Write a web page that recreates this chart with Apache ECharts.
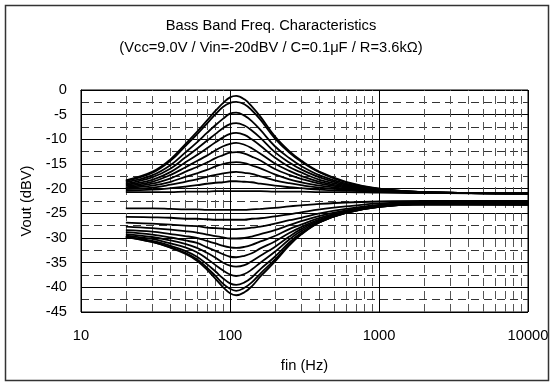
<!DOCTYPE html>
<html><head><meta charset="utf-8">
<script src="https://cdn.jsdelivr.net/npm/echarts@6/dist/echarts.min.js"></script>
<style>html,body{margin:0;padding:0;background:#fff}#c{width:554px;height:385px}</style>
</head><body><div id="c"></div>
<script>
const titleText = 'Bass Band Freq. Characteristics';
const subtitleText = '(Vcc=9.0V / Vin=-20dBV / C=0.1\u03bcF / R=3.6k\u03a9)';
const xName = 'fin (Hz)';
const yName = 'Vout (dBV)';
const minorFreqs = [20,30,40,50,60,70,80,90,200,300,400,500,600,700,800,900,2000,3000,4000,5000,6000,7000,8000,9000];
const freqs = [20,30,40,50,60,70,80,90,100,110,125,140,160,200,250,300,400,600,1000,2000,10000];
const up10 = [-18.3,-16.6,-14.0,-11.0,-8.5,-6.2,-4.2,-2.6,-1.5,-1.2,-1.9,-3.3,-5.4,-9.4,-12.4,-14.3,-16.6,-18.6,-20.0,-20.7,-21.0];
const up9  = [-18.4,-16.8,-14.3,-11.4,-9.0,-6.8,-4.9,-3.4,-2.6,-2.4,-2.9,-4.1,-6.0,-9.8,-12.7,-14.5,-16.7,-18.7,-20.0,-20.7,-21.0];
const up8  = [-18.7,-17.3,-15.2,-12.7,-10.6,-8.7,-7.1,-5.8,-4.8,-4.6,-5.2,-6.3,-8.1,-11.4,-13.8,-15.4,-17.3,-19.0,-20.1,-20.7,-21.0];
const up7  = [-19.0,-17.7,-15.9,-13.7,-11.9,-10.3,-8.9,-7.7,-6.9,-6.7,-7.2,-8.2,-9.7,-12.6,-14.7,-16.1,-17.7,-19.2,-20.2,-20.7,-21.0];
const up6  = [-19.2,-18.2,-16.6,-14.7,-13.2,-11.8,-10.6,-9.6,-8.9,-8.7,-9.1,-10.0,-11.3,-13.7,-15.6,-16.7,-18.2,-19.4,-20.3,-20.7,-21.0];
const up5  = [-19.4,-18.6,-17.2,-15.7,-14.4,-13.3,-12.2,-11.4,-10.9,-10.7,-11.1,-11.8,-12.9,-14.9,-16.4,-17.4,-18.6,-19.6,-20.3,-20.8,-21.0];
const up4  = [-19.7,-19.0,-17.9,-16.6,-15.6,-14.7,-13.8,-13.2,-12.7,-12.6,-12.9,-13.5,-14.3,-16.0,-17.2,-18.0,-19.0,-19.8,-20.4,-20.8,-20.9];
const up3  = [-19.9,-19.4,-18.6,-17.6,-16.9,-16.2,-15.5,-15.0,-14.7,-14.6,-14.8,-15.3,-15.9,-17.1,-18.1,-18.7,-19.4,-20.0,-20.5,-20.8,-20.9];
const up2  = [-20.1,-19.8,-19.2,-18.6,-18.1,-17.6,-17.2,-16.9,-16.7,-16.6,-16.8,-17.0,-17.5,-18.3,-18.9,-19.3,-19.8,-20.2,-20.6,-20.8,-20.9];
const up1  = [-20.4,-20.2,-19.9,-19.6,-19.3,-19.0,-18.8,-18.7,-18.5,-18.5,-18.6,-18.7,-19.0,-19.4,-19.7,-19.9,-20.2,-20.4,-20.6,-20.8,-20.9];
const flat = [-20.7,-20.7,-20.7,-20.6,-20.6,-20.6,-20.5,-20.5,-20.5,-20.5,-20.5,-20.5,-20.5,-20.6,-20.6,-20.6,-20.7,-20.7,-20.8,-20.9,-20.9];
const dn0  = [-24.0,-24.0,-24.1,-24.2,-24.2,-24.3,-24.3,-24.3,-24.3,-24.3,-24.3,-24.2,-24.1,-23.9,-23.6,-23.4,-23.1,-22.8,-22.6,-22.5,-22.5];
const dn1  = [-25.7,-25.8,-25.9,-26.1,-26.1,-26.2,-26.3,-26.3,-26.3,-26.3,-26.3,-26.1,-26.0,-25.6,-25.2,-24.8,-24.2,-23.6,-23.0,-22.7,-22.6];
const dn2  = [-26.9,-27.1,-27.3,-27.5,-27.6,-27.9,-28.0,-28.1,-28.2,-28.2,-28.1,-27.9,-27.7,-27.1,-26.4,-25.9,-25.0,-24.1,-23.3,-22.8,-22.7];
const dn3  = [-27.7,-28.0,-28.3,-28.6,-28.9,-29.3,-29.6,-29.9,-30.1,-30.1,-30.0,-29.7,-29.2,-28.4,-27.4,-26.6,-25.5,-24.4,-23.4,-22.9,-22.8];
const dn4  = [-28.4,-28.7,-29.2,-29.6,-30.0,-30.6,-31.1,-31.6,-31.9,-32.0,-31.8,-31.4,-30.7,-29.6,-28.2,-27.3,-25.9,-24.6,-23.5,-23.0,-22.9];
const dn5  = [-28.8,-29.3,-29.9,-30.5,-31.0,-31.9,-32.6,-33.3,-33.8,-33.9,-33.6,-33.1,-32.1,-30.7,-29.0,-27.8,-26.2,-24.7,-23.6,-23.0,-23.0];
const dn6  = [-29.2,-29.8,-30.5,-31.2,-32.0,-33.0,-34.0,-35.0,-35.6,-35.8,-35.5,-34.7,-33.6,-31.8,-29.7,-28.2,-26.4,-24.8,-23.6,-23.1,-23.0];
const dn7  = [-29.5,-30.2,-31.1,-31.9,-32.9,-34.2,-35.5,-36.6,-37.4,-37.7,-37.3,-36.4,-35.0,-32.8,-30.3,-28.6,-26.6,-24.9,-23.7,-23.1,-23.1];
const dn8  = [-29.7,-30.6,-31.6,-32.6,-33.8,-35.3,-36.8,-38.2,-39.2,-39.5,-39.0,-38.0,-36.3,-33.8,-30.9,-29.0,-26.8,-24.9,-23.7,-23.2,-23.2];
const dn9  = [-29.7,-30.8,-31.9,-33.0,-34.3,-36.0,-37.7,-39.3,-40.3,-40.7,-40.1,-39.0,-37.2,-34.4,-31.3,-29.2,-26.8,-24.9,-23.7,-23.2,-23.3];
const dn10 = [-29.8,-30.8,-32.0,-33.2,-34.6,-36.4,-38.3,-40.0,-41.2,-41.6,-41.0,-39.8,-37.8,-34.8,-31.5,-29.3,-26.8,-24.8,-23.6,-23.2,-23.3];

const curves = [up10,up9,up8,up7,up6,up5,up4,up3,up2,up1,flat,dn0,dn1,dn2,dn3,dn4,dn5,dn6,dn7,dn8,dn9,dn10];
const FONT = 'Liberation Sans, Arial, sans-serif';

const chart = echarts.init(document.getElementById('c'), null, {renderer:'canvas'});
const series = curves.map(c => ({
  type:'line', data: freqs.map((f,i)=>[f,c[i]]), symbol:'none', smooth:0.4,
  lineStyle:{color:'#000', width:1.8}, silent:true, z:5
}));
series.push({
  type:'line', data:[], silent:true, z:2,
  markLine:{silent:true, symbol:['none','none'], label:{show:false}, animation:false,
    lineStyle:{type:[8,5], color:'#555', width:1},
    data: minorFreqs.map(v=>({xAxis:v}))}
});
chart.setOption({
  animation:false,
  backgroundColor:'#fff',
  title:{text: titleText + '\n' + subtitleText, left:266, textAlign:'center', top:10,
    textStyle:{fontFamily:FONT, fontSize:14.7, fontWeight:'normal', color:'#000', lineHeight:22}},
  grid:{left:81, top:90, right:26, bottom:73, show:true, borderColor:'#000', borderWidth:1},
  xAxis:{type:'log', logBase:10, min:10, max:10000, name:xName, nameLocation:'middle', nameGap:46,
    nameTextStyle:{fontFamily:FONT, fontSize:14.7, color:'#000'},
    axisLine:{lineStyle:{color:'#000'}}, axisTick:{show:false},
    axisLabel:{fontFamily:FONT, fontSize:14.7, color:'#000', margin:16, formatter: v => String(Math.round(v))},
    splitLine:{show:true, lineStyle:{color:'#000', width:1}}},
  yAxis:{type:'value', min:-45, max:0, interval:5, name:yName, nameLocation:'middle', nameGap:34,
    nameTextStyle:{fontFamily:FONT, fontSize:14.7, color:'#000'},
    axisLine:{show:true, lineStyle:{color:'#000'}}, axisTick:{show:false},
    axisLabel:{fontFamily:FONT, fontSize:14.7, color:'#000', margin:14},
    splitLine:{show:true, lineStyle:{color:'#000', width:1}},
    minorSplitLine:{show:true, lineStyle:{color:'#333', type:[8,5], width:1}},
    minorTick:{show:false, splitNumber:2}},
  graphic:[{type:'rect', shape:{x:5.5, y:5.5, width:543, height:375}, style:{fill:'none', stroke:'#333', lineWidth:1.5}, silent:true}],
  series: series
});
</script></body></html>
